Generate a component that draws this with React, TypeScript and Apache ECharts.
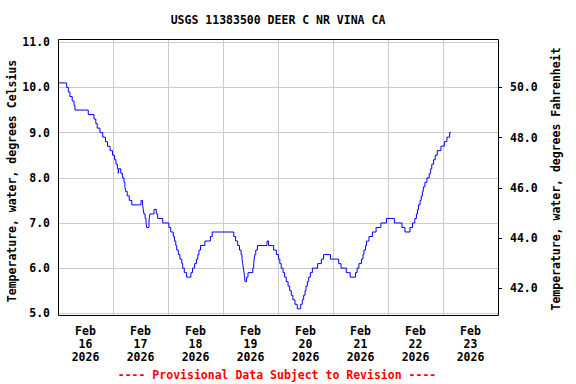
import React, { useEffect, useRef } from "react";
import * as echarts from "echarts";

// Hours since Feb 16 2026 00:00 at which the reading changes, and the new value (°C)
const hours = [
  0, 3.8, 4.5, 5.2, 6.2, 7.0, 7.4, 13.2, 15.7, 16.5, 17.1, 18.3, 19.5, 20.7, 21.6, 22.7,
  23.8, 24.7, 25.3, 25.9, 26.3, 26.5, 27.4, 28.1, 28.8, 29.2, 29.5, 30.2, 31.1, 32.2,
  36.2, 36.9, 37.2, 37.5, 38.0, 38.4, 38.7, 39.7, 39.8, 40.1, 41.9, 42.9, 43.5, 45.7,
  48.4, 49.2, 50.3, 50.8, 51.4, 51.8, 52.5, 53.2, 54.0, 54.4, 55.1, 56.1, 58.0, 58.7,
  59.6, 60.4, 61.0, 61.5, 62.2, 64.1, 66.5, 67.3, 76.7, 77.5, 78.4, 79.2, 79.9, 80.3,
  80.6, 80.9, 81.2, 81.4, 81.6, 82.3, 82.9, 85.0, 85.4, 85.6, 85.9, 86.3, 87.0, 91.2,
  91.9, 94.1, 95.3, 96.2, 96.8, 97.4, 98.2, 98.9, 99.6, 100.4, 101.1, 101.8, 102.5,
  103.4, 104.4, 105.9, 106.6, 107.2, 107.8, 108.2, 108.8, 109.4, 110.1, 111.0, 113.3,
  114.9, 115.9, 118.9, 122.5, 123.5, 125.8, 127.5, 129.8, 130.5, 131.3, 132.4, 133.1,
  133.5, 134.2, 134.6, 135.7, 137.2, 138.8, 140.9, 143.3, 146.8, 150.1, 151.4, 153.6,
  154.7, 155.7, 156.4, 156.9, 157.3, 158.0, 158.5, 159.0, 159.4, 160.1, 161.0, 162.0,
  162.6, 163.1, 163.9, 164.6, 165.5, 167.1, 168.6, 169.7, 170.9, 171.5,
];
const tempsC = [
  10.1, 10.0, 9.9, 9.8, 9.7, 9.6, 9.5, 9.4, 9.3, 9.2, 9.1, 9.0, 8.9, 8.8, 8.7, 8.6,
  8.5, 8.4, 8.3, 8.2, 8.1, 8.2, 8.1, 8.0, 7.9, 7.8, 7.7, 7.6, 7.5, 7.4,
  7.5, 7.4, 7.3, 7.2, 7.1, 7.0, 6.9, 7.0, 7.1, 7.2, 7.3, 7.2, 7.1, 7.0,
  6.9, 6.8, 6.7, 6.6, 6.5, 6.4, 6.3, 6.2, 6.1, 6.0, 5.9, 5.8, 5.9, 6.0,
  6.1, 6.2, 6.3, 6.4, 6.5, 6.6, 6.7, 6.8, 6.7, 6.6, 6.5, 6.4, 6.3, 6.2,
  6.1, 6.0, 5.9, 5.8, 5.7, 5.8, 5.9, 6.0, 6.1, 6.2, 6.3, 6.4, 6.5, 6.6,
  6.5, 6.4, 6.3, 6.2, 6.1, 6.0, 5.9, 5.8, 5.7, 5.6, 5.5, 5.4, 5.3,
  5.2, 5.1, 5.2, 5.3, 5.4, 5.5, 5.6, 5.7, 5.8, 5.9, 6.0, 6.1,
  6.2, 6.3, 6.2, 6.1, 6.0, 5.9, 5.8, 5.9, 6.0, 6.1, 6.2, 6.3,
  6.4, 6.5, 6.6, 6.7, 6.8, 6.9, 7.0, 7.1, 7.0, 6.9, 6.8, 6.9,
  7.0, 7.1, 7.2, 7.3, 7.4, 7.5, 7.6, 7.7, 7.8, 7.9, 8.0, 8.1,
  8.2, 8.3, 8.4, 8.5, 8.6, 8.7, 8.8, 8.9, 9.0, 9.0,
];

const dayLabels = [
  "Feb\n16\n2026", "Feb\n17\n2026", "Feb\n18\n2026", "Feb\n19\n2026",
  "Feb\n20\n2026", "Feb\n21\n2026", "Feb\n22\n2026", "Feb\n23\n2026",
];
const labelHours = [12, 36, 60, 84, 108, 132, 156, 180];
const celsiusTicks = [5, 6, 7, 8, 9, 10, 11];
const fahrenheitTicks = [42, 44, 46, 48, 50];

const titleText = "USGS 11383500 DEER C NR VINA CA";
const leftName = "Temperature, water, degrees Celsius";
const rightName = "Temperature, water, degrees Fahrenheit";
const footText = "---- Provisional Data Subject to Revision ----";

const FONT = "DejaVu Sans Mono";

export default function App() {
  const ref = useRef<HTMLDivElement>(null);
  useEffect(() => {
    if (!ref.current) return;
    const chart = echarts.init(ref.current, null, { renderer: "svg" });
    const data = hours.map((h, i) => [h, tempsC[i]]);
    const lab = { fontFamily: FONT, fontWeight: "bold" as const, fontSize: 11.5, color: "#000" };
    chart.setOption({
      animation: false,
      backgroundColor: "#fff",
      grid: [
        { left: 58, right: 78, top: 42.3, bottom: 70.7 },
        { left: 58, right: 78, top: 40, bottom: 69 },
      ],
      xAxis: [
        {
          type: "value", gridIndex: 0, min: 0, max: 192, interval: 12,
          axisLine: { show: false }, axisTick: { show: false },
          splitLine: { show: false },
          axisLabel: {
            ...lab, margin: 11, lineHeight: 13,
            customValues: labelHours,
            formatter: (v: number) => {
              const i = labelHours.indexOf(v);
              return i >= 0 ? dayLabels[i] : "";
            },
          },
        },
        {
          type: "value", gridIndex: 1, min: 0, max: 192, interval: 24,
          axisLine: { show: false }, axisTick: { show: false }, axisLabel: { show: false },
          splitLine: { show: true, lineStyle: { color: "#cccccc", width: 1 } },
        },
      ],
      yAxis: [
        {
          type: "value", gridIndex: 0, min: 5, max: 11, interval: 1,
          axisLine: { show: false }, axisTick: { show: false },
          splitLine: { show: true, lineStyle: { color: "#cccccc", width: 1 } },
          axisLabel: {
            ...lab, margin: 8,
            formatter: (v: number) => (celsiusTicks.includes(v) ? v.toFixed(1) : ""),
          },
        },
        {
          type: "value", gridIndex: 0, position: "right",
          min: 5 * 1.8 + 32, max: 11 * 1.8 + 32,
          axisLine: { show: false },
          axisTick: { show: true, length: 4, customValues: fahrenheitTicks, lineStyle: { color: "#000" } },
          splitLine: { show: false },
          axisLabel: {
            ...lab, margin: 12,
            customValues: fahrenheitTicks,
            formatter: (v: number) => v.toFixed(1),
          },
        },
        {
          type: "value", gridIndex: 1, min: 0, max: 1, show: false,
          splitLine: { show: false },
        },
      ],
      series: [
        {
          type: "line", xAxisIndex: 0, yAxisIndex: 0, data, step: "end",
          showSymbol: false, symbol: "none",
          lineStyle: { color: "#0000ff", width: 1 },
          z: 5,
        },
      ],
      graphic: [
        {
          type: "rect", z: 100,
          shape: { x: 58.5, y: 39.5, width: 440, height: 276 },
          style: { fill: "none", stroke: "#000", lineWidth: 1 },
        },
        {
          type: "text", x: 278, y: 20,
          style: { text: titleText, font: `bold 11.5px '${FONT}'`, fill: "#000", align: "center", verticalAlign: "middle" },
        },
        {
          type: "text", x: 12, y: 181, rotation: Math.PI / 2,
          style: { text: leftName, font: `bold 11.5px '${FONT}'`, fill: "#000", align: "center", verticalAlign: "middle" },
        },
        {
          type: "text", x: 556, y: 179, rotation: Math.PI / 2,
          style: { text: rightName, font: `bold 11.5px '${FONT}'`, fill: "#000", align: "center", verticalAlign: "middle" },
        },
        {
          type: "text", x: 277, y: 375,
          style: { text: footText, font: `bold 11.5px '${FONT}'`, fill: "#ff0000", align: "center", verticalAlign: "middle" },
        },
      ],
    });
    return () => chart.dispose();
  }, []);
  return <div ref={ref} style={{ width: 576, height: 384, position: "absolute", left: 0, top: 0 }} />;
}
